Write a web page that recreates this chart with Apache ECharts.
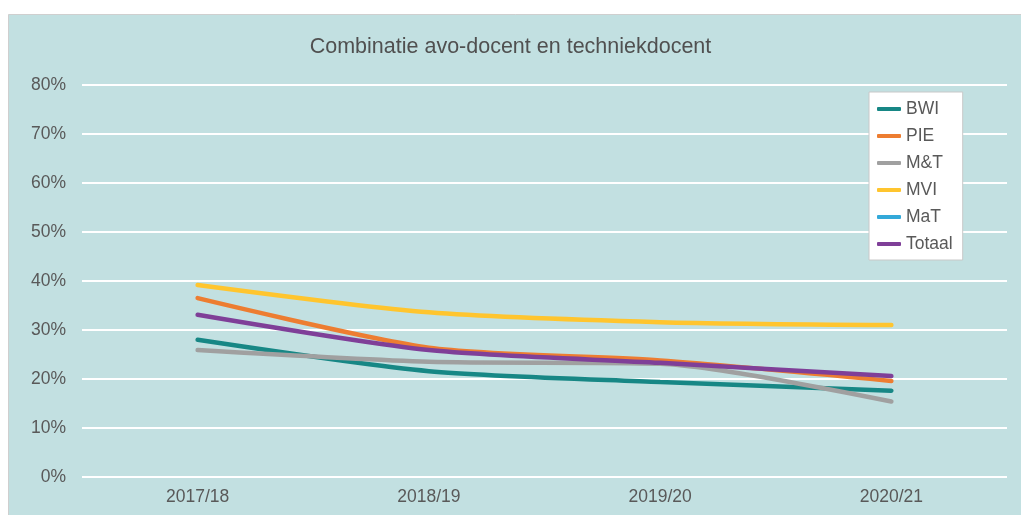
<!DOCTYPE html>
<html><head><meta charset="utf-8">
<script src="https://cdn.jsdelivr.net/npm/echarts@6/dist/echarts.min.js"></script>
<style>html,body{margin:0;padding:0;background:#fff;}#c{width:1021px;height:515px;}</style>
</head><body><div id="c"></div>
<script>
const categories = ['2017/18','2018/19','2019/20','2020/21'];
const bwi    = [28.0, 21.6, 19.4, 17.6];
const pie    = [36.5, 26.4, 23.8, 19.6];
const mt     = [25.9, 23.5, 23.1, 15.4];
const mvi    = [39.2, 33.6, 31.6, 31.0];
const mat    = [null, null, null, null];
const totaal = [33.1, 25.9, 23.3, 20.6];
const seriesNames = ['BWI','PIE','M&T','MVI','MaT','Totaal'];
const seriesData = [bwi, pie, mt, mvi, mat, totaal];
const colors = ['#178785','#ed7d31','#a0a0a0','#ffc52e','#33a9d9','#7f3f98'];

const chart = echarts.init(document.getElementById('c'));
chart.setOption({
  animation:false,
  textStyle:{fontFamily:'Liberation Sans, Arial, sans-serif'},
  graphic:[{type:'rect',z:-10,silent:true,shape:{x:8.5,y:14.5,width:1020,height:510},
    style:{fill:'#c2e0e1',stroke:'#cfcfcf',lineWidth:1}}],
  title:{text:'Combinatie avo-docent en techniekdocent',left:'center',top:31,
    textStyle:{fontSize:21.5,fontWeight:'normal',color:'#505050',fontFamily:'Liberation Sans, Arial, sans-serif'}},
  grid:{left:82,right:14,top:85,bottom:38,containLabel:false},
  legend:{orient:'vertical',left:869,top:92,backgroundColor:'#fff',borderColor:'#c8c8c8',borderWidth:1,
    padding:[8,10,7,8],itemGap:9,itemWidth:24,itemHeight:4,icon:'roundRect',
    textStyle:{fontSize:17.5,color:'#595959'},
    data:seriesNames},
  xAxis:{type:'category',data:categories,boundaryGap:true,
    axisLine:{show:false},axisTick:{show:false},
    axisLabel:{fontSize:17.5,color:'#595959',margin:11}},
  yAxis:{type:'value',min:0,max:80,interval:10,
    axisLabel:{formatter:'{value}%',fontSize:17.5,color:'#595959',margin:16},
    splitLine:{lineStyle:{color:'#ffffff',width:2}},axisLine:{show:false},axisTick:{show:false}},
  series: seriesNames.map((n,i)=>({name:n,type:'line',data:seriesData[i],smooth:0.25,
    symbol:'none',color:colors[i],lineStyle:{width:4.5,color:colors[i],cap:'round'}}))
});
</script></body></html>
